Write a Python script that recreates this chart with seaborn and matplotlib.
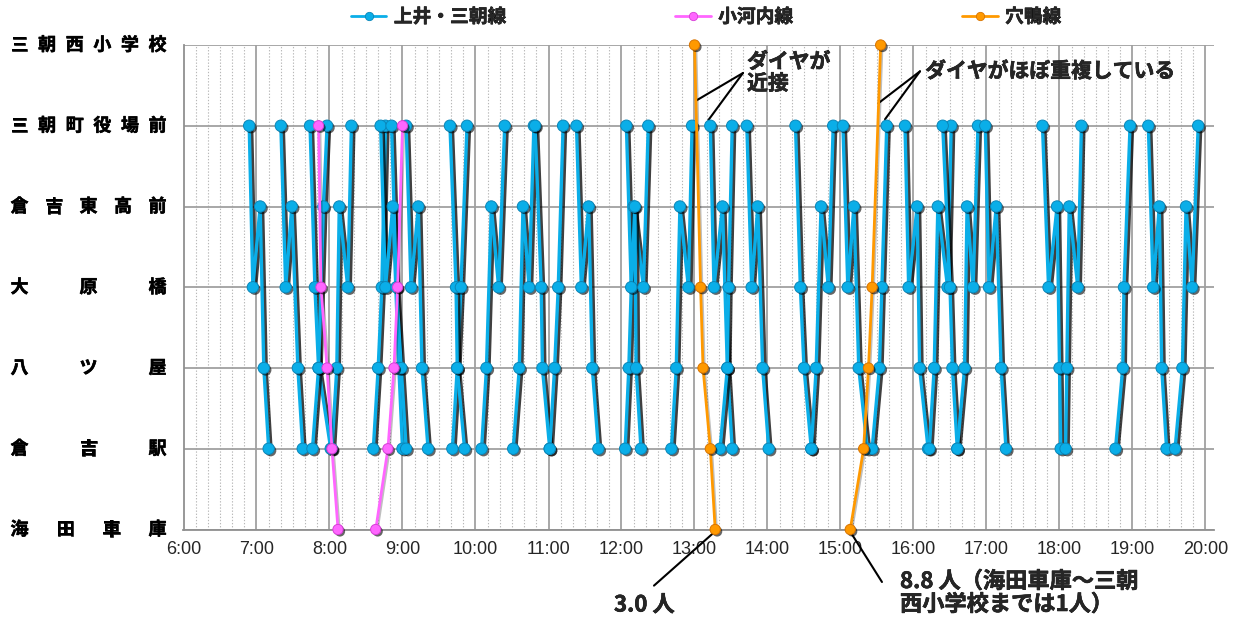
import matplotlib
matplotlib.use("Agg")
import matplotlib.pyplot as plt
import matplotlib.patheffects as pe
import matplotlib.transforms as mtransforms
from matplotlib.ticker import MultipleLocator
from matplotlib.lines import Line2D
import pandas as pd
import seaborn as sns

# ---- data -------------------------------------------------------------
stops = ["海田車庫", "倉吉駅", "八ツ屋", "大原橋", "倉吉東高前", "三朝町役場前", "三朝西小学校"]
hour_ticks = list(range(6, 21))
hour_labels = [f"{h}:00" for h in hour_ticks]

# stop index: 0=海田車庫 1=倉吉駅 2=八ツ屋 3=大原橋 4=倉吉東高前 5=三朝町役場前 6=三朝西小学校
kamii_misasa_trips = [
    [(5, "6:54"), (3, "6:57"), (4, "7:03"), (2, "7:06"), (1, "7:10")],
    [(5, "7:20"), (3, "7:24"), (4, "7:29"), (2, "7:34"), (1, "7:38")],
    [(5, "7:44"), (3, "7:48"), (2, "7:51"), (1, "8:01")],
    [(1, "7:46"), (2, "7:51"), (4, "7:55"), (5, "7:58")],
    [(1, "8:02"), (2, "8:06"), (4, "8:08"), (3, "8:15"), (5, "8:18")],
    [(1, "8:36"), (2, "8:40"), (3, "8:43"), (5, "8:46")],
    [(5, "8:42"), (3, "8:46"), (4, "8:52"), (2, "8:57"), (1, "9:00")],
    [(5, "8:51"), (3, "8:55"), (2, "8:59"), (1, "9:03")],
    [(5, "9:03"), (3, "9:07"), (4, "9:13"), (2, "9:16"), (1, "9:21")],
    [(5, "9:39"), (3, "9:44"), (2, "9:45"), (1, "9:51")],
    [(1, "9:41"), (2, "9:45"), (3, "9:48"), (5, "9:53")],
    [(1, "10:05"), (2, "10:09"), (4, "10:13"), (3, "10:19"), (5, "10:24")],
    [(1, "10:31"), (2, "10:36"), (4, "10:39"), (3, "10:44"), (5, "10:48")],
    [(5, "10:49"), (3, "10:54"), (2, "10:55"), (1, "11:01")],
    [(1, "11:01"), (2, "11:05"), (3, "11:08"), (5, "11:12")],
    [(5, "11:23"), (3, "11:27"), (4, "11:33"), (2, "11:36"), (1, "11:41")],
    [(1, "12:03"), (2, "12:06"), (4, "12:10"), (3, "12:18"), (5, "12:22")],
    [(5, "12:04"), (3, "12:08"), (4, "12:11"), (2, "12:12"), (1, "12:16")],
    [(1, "12:41"), (2, "12:45"), (4, "12:48"), (3, "12:55"), (5, "12:58")],
    [(5, "13:13"), (3, "13:16"), (4, "13:23"), (2, "13:27"), (1, "13:31")],
    [(1, "13:21"), (2, "13:27"), (3, "13:28"), (5, "13:31")],
    [(5, "13:43"), (3, "13:47"), (4, "13:52"), (2, "13:56"), (1, "14:01")],
    [(5, "14:23"), (3, "14:27"), (2, "14:30"), (1, "14:36")],
    [(1, "14:36"), (2, "14:40"), (4, "14:44"), (3, "14:50"), (5, "14:54")],
    [(5, "15:02"), (3, "15:06"), (4, "15:11"), (2, "15:15"), (1, "15:22")],
    [(1, "15:26"), (2, "15:32"), (3, "15:34"), (5, "15:38")],
    [(5, "15:53"), (3, "15:56"), (4, "16:03"), (2, "16:05"), (1, "16:12")],
    [(1, "16:13"), (2, "16:17"), (4, "16:20"), (3, "16:28"), (5, "16:31")],
    [(5, "16:24"), (3, "16:30"), (2, "16:32"), (1, "16:36")],
    [(1, "16:36"), (2, "16:42"), (4, "16:44"), (3, "16:49"), (5, "16:53")],
    [(5, "16:59"), (3, "17:02"), (4, "17:08"), (2, "17:12"), (1, "17:16")],
    [(5, "17:46"), (3, "17:51"), (4, "17:58"), (2, "18:00"), (1, "18:01")],
    [(1, "18:05"), (2, "18:06"), (4, "18:08"), (3, "18:15"), (5, "18:18")],
    [(1, "18:46"), (2, "18:52"), (3, "18:53"), (5, "18:58")],
    [(5, "19:13"), (3, "19:17"), (4, "19:22"), (2, "19:24"), (1, "19:28")],
    [(1, "19:35"), (2, "19:41"), (4, "19:44"), (3, "19:49"), (5, "19:54")],
]

kogouchi_trips = [
    [(5, "7:51"), (3, "7:53"), (2, "7:58"), (1, "8:02"), (0, "8:07")],
    [(0, "8:38"), (1, "8:48"), (2, "8:53"), (3, "8:56"), (5, "9:00")],
]

anakamo_trips = [
    [(6, "13:00"), (3, "13:05"), (2, "13:07"), (1, "13:13"), (0, "13:17")],
    [(0, "15:08"), (1, "15:19"), (2, "15:23"), (3, "15:26"), (6, "15:33")],
]

route_names = ["上井・三朝線", "小河内線", "穴鴨線"]
route_colors = ["#0AAEE8", "#FF66FF", "#FF9900"]
route_edges = ["#0A86B8", "#D63FD6", "#D87400"]


def to_hour(t):
    h, m = t.split(":")
    return int(h) + int(m) / 60.0


rows = []
for route, trips in zip(route_names, [kamii_misasa_trips, kogouchi_trips, anakamo_trips]):
    for i, trip in enumerate(trips):
        for stop, t in trip:
            rows.append({"route": route, "trip": f"{route}-{i}", "stop": stop, "hour": to_hour(t)})
df = pd.DataFrame(rows)

# ---- figure -----------------------------------------------------------
sns.set_style("white")
plt.rcParams["font.family"] = ["Noto Sans CJK JP", "DejaVu Sans"]
# heavy gothic look: bold face plus a hairline outline in the text colour
heavy = dict(fontweight="bold",
             path_effects=[pe.withStroke(linewidth=0.4, foreground="black")])

W, H = 1242, 618
fig = plt.figure(figsize=(W / 100, H / 100), dpi=100)
x0_px, x1_px, y0_px, y1_px = 183.5, 1214.3, 529.5, 45.0
ax = fig.add_axes([x0_px / W, 1 - y0_px / H, (x1_px - x0_px) / W, (y0_px - y1_px) / H])

x_max = 6 + (x1_px - x0_px) / 73.0
ax.set_xlim(6, x_max)
ax.set_ylim(0, 6)

styles = [
    dict(lw=2.4, ms=8.2, shadow=(1.8, 0.75)),
    dict(lw=2.0, ms=7.4, shadow=(1.0, 0.25)),
    dict(lw=2.0, ms=7.4, shadow=(1.0, 0.25)),
]
z = 3.0
for route, color, edge, st in zip(route_names, route_colors, route_edges, styles):
    sub = df[df["route"] == route]
    off, alpha = st["shadow"]
    # trip lines
    n_before = len(ax.lines)
    sns.lineplot(
        data=sub, x="hour", y="stop", units="trip", estimator=None, sort=True,
        color=color, linewidth=st["lw"], legend=False, ax=ax, clip_on=False, zorder=z,
    )
    for ln in ax.lines[n_before:]:
        ln.set_path_effects([
            pe.SimpleLineShadow(offset=(off, -off), shadow_color="black", alpha=alpha),
            pe.Normal(),
        ])
    # stop markers
    n_coll = len(ax.collections)
    sns.scatterplot(
        data=sub, x="hour", y="stop", color=color, s=st["ms"] ** 2,
        edgecolor=edge, linewidth=0.7, legend=False, ax=ax, clip_on=False,
        zorder=z + 0.1,
    )
    for coll in ax.collections[n_coll:]:
        coll.set_path_effects([
            pe.SimplePatchShadow(offset=(1.4, -1.4), shadow_rgbFace="black", alpha=0.6),
            pe.Normal(),
        ])
    z += 0.2

# grid and axes
ax.set_xticks(hour_ticks)
ax.set_xticklabels(hour_labels, fontfamily="Liberation Sans", fontsize=13)
ax.xaxis.set_minor_locator(MultipleLocator(1 / 6))
ax.set_yticks(range(len(stops)))
ax.set_yticklabels([""] * len(stops))
ax.set_xlabel("")
ax.set_ylabel("")
ax.set_axisbelow(True)
ax.grid(axis="y", which="major", color="#A0A0A0", linewidth=1.3)
ax.grid(axis="x", which="major", color="#A0A0A0", linewidth=1.3)
ax.grid(axis="x", which="minor", color="#B8B8B8", linewidth=0.8, linestyle=(0, (1.2, 1.6)))
ax.tick_params(axis="x", which="major", length=5, width=1.2, color="#909090", pad=3.5, direction="out")
ax.tick_params(axis="x", which="minor", length=0)
ax.tick_params(axis="y", which="major", length=6, width=1.2, color="#909090", direction="out")
for side in ["top", "right"]:
    ax.spines[side].set_visible(False)
for side in ["left", "bottom"]:
    ax.spines[side].set_color("#909090")
    ax.spines[side].set_linewidth(1.3)

# stop names, spread evenly across the label column
blend = mtransforms.blended_transform_factory(fig.transFigure, ax.transData)
left_c, right_c = 19.5, 157.5
for level, name in enumerate(stops):
    n = len(name)
    for k, ch in enumerate(name):
        xc = left_c + (right_c - left_c) * k / (n - 1)
        fig.text(xc / W, level, ch, transform=blend, ha="center", va="center",
                 fontsize=13, color="black", **heavy)

# legend
handles = [Line2D([], [], color=c, marker="o", markersize=6, linewidth=2.0,
                  markeredgecolor=e, markeredgewidth=0.6)
           for c, e in zip(route_colors, route_edges)]
leg = fig.legend(handles, route_names, loc="center", bbox_to_anchor=(706 / W, 1 - 17 / H),
                 ncol=3, frameon=False, handlelength=1.9, handletextpad=0.4,
                 columnspacing=9.0, borderpad=0, prop=dict(weight="bold", size=13.5))
for txt in leg.get_texts():
    txt.set_path_effects(heavy["path_effects"])

# callouts
line_kw = dict(arrowstyle="-", color="black", lw=1.5, shrinkA=0, shrinkB=0)
ax.text(13.72, 5.66, "ダイヤが\n近接", ha="left", va="center", fontsize=15,
        linespacing=1.05, **heavy)
for tgt in [(13.02, 5.31), (13.19, 5.07)]:
    ax.annotate("", xy=tgt, xytext=(13.664, 5.653), arrowprops=line_kw, annotation_clip=False)

ax.text(16.16, 5.678, "ダイヤがほぼ重複している", ha="left", va="center", fontsize=15, **heavy)
for tgt in [(15.52, 5.28), (15.61, 5.08)]:
    ax.annotate("", xy=tgt, xytext=(16.089, 5.674), arrowprops=line_kw, annotation_clip=False)

ax.text(11.897, -0.935, "3.0 人", ha="left", va="center", fontsize=16,
        clip_on=False, **heavy)
ax.annotate("", xy=(13.25, -0.05), xytext=(12.445, -0.695), arrowprops=line_kw,
            annotation_clip=False)

ax.text(15.815, -0.786, "8.8 人（海田車庫～三朝\n西小学校までは1人）", ha="left", va="center",
        fontsize=16, linespacing=1.0, clip_on=False, **heavy)
ax.annotate("", xy=(15.15, -0.05), xytext=(15.568, -0.650), arrowprops=line_kw,
            annotation_clip=False)

fig.savefig("out.png", dpi=100)
